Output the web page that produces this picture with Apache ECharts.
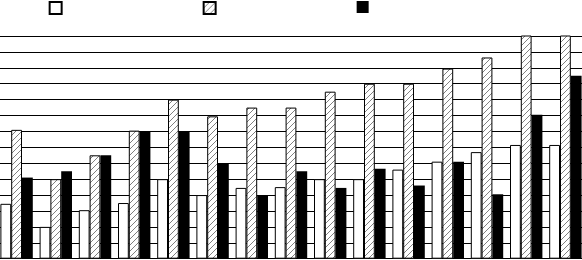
<!DOCTYPE html>
<html>
<head>
<meta charset="utf-8">
<script src="https://cdn.jsdelivr.net/npm/echarts@6/dist/echarts.min.js"></script>
<style>html,body{margin:0;padding:0;background:#fff;overflow:hidden;width:582px;height:260px}#c{position:absolute;left:-2.65px;top:0;width:588px;height:260px}</style>
</head>
<body>
<div id="c"></div>
<script>
var categories = ['1','2','3','4','5','6','7','8','9','10','11','12','13','14','15'];
var seriesNames = ['S1','S2','S3'];
var whiteValues = [3.45, 2.0, 3.05, 3.5, 5.0, 4.0, 4.45, 4.5, 5.0, 5.0, 5.6, 6.1, 6.7, 7.15, 7.15];
var hatchedValues = [8.1, 5.0, 6.5, 8.05, 10.0, 8.95, 9.5, 9.5, 10.5, 11.0, 11.0, 11.95, 12.65, 15, 15];
var blackValues = [5.1, 5.5, 6.5, 8.0, 8.0, 6.0, 4.0, 5.5, 4.45, 5.65, 4.6, 6.1, 4.05, 9.05, 11.5];
var yMin = 0, yMax = 14, yInterval = 1;

function hatchPattern() {
  var c = document.createElement('canvas');
  c.width = 6; c.height = 6;
  var ctx = c.getContext('2d');
  ctx.fillStyle = '#fff';
  ctx.fillRect(0, 0, 6, 6);
  ctx.strokeStyle = '#808080';
  ctx.lineWidth = 1;
  ctx.beginPath();
  ctx.moveTo(-1, 7); ctx.lineTo(7, -1);
  ctx.moveTo(-1, 1); ctx.lineTo(1, -1);
  ctx.moveTo(5, 7); ctx.lineTo(7, 5);
  ctx.stroke();
  return {image: c, repeat: 'repeat'};
}

var chart = echarts.init(document.getElementById('c'), null, {renderer: 'canvas'});
var legendLefts = [51.65, 205.65, 359.65];
var legendBase = {top: 1, itemWidth: 12, itemHeight: 12, icon: 'rect', formatter: function(){ return ''; }, selectedMode: false, padding: 0};
var styles = [
  {color: '#fff', borderColor: '#000', borderWidth: 1},
  {color: hatchPattern(), borderColor: '#000', borderWidth: 1},
  {color: '#000', borderColor: '#000', borderWidth: 0}
];
var values = [whiteValues, hatchedValues, blackValues];

chart.setOption({
  animation: false,
  backgroundColor: '#fff',
  legend: legendLefts.map(function(l, i){
    return Object.assign({}, legendBase, {left: l, data: [seriesNames[i]]});
  }),
  grid: {left: 0, top: 36, right: 0, bottom: 1.3, containLabel: false},
  xAxis: {
    type: 'category', data: categories,
    axisLine: {show: false}, axisTick: {show: false}, axisLabel: {show: false},
    splitLine: {show: false}
  },
  yAxis: {
    type: 'value', min: yMin, max: yMax, interval: yInterval,
    axisLine: {show: false}, axisTick: {show: false}, axisLabel: {show: false},
    splitLine: {show: true, lineStyle: {color: '#000', width: 1}}
  },
  series: seriesNames.map(function(n, i){
    return {
      name: n, type: 'bar', data: values[i],
      barWidth: 10.8, barGap: '0%',
      itemStyle: styles[i]
    };
  })
});
</script>
</body>
</html>
